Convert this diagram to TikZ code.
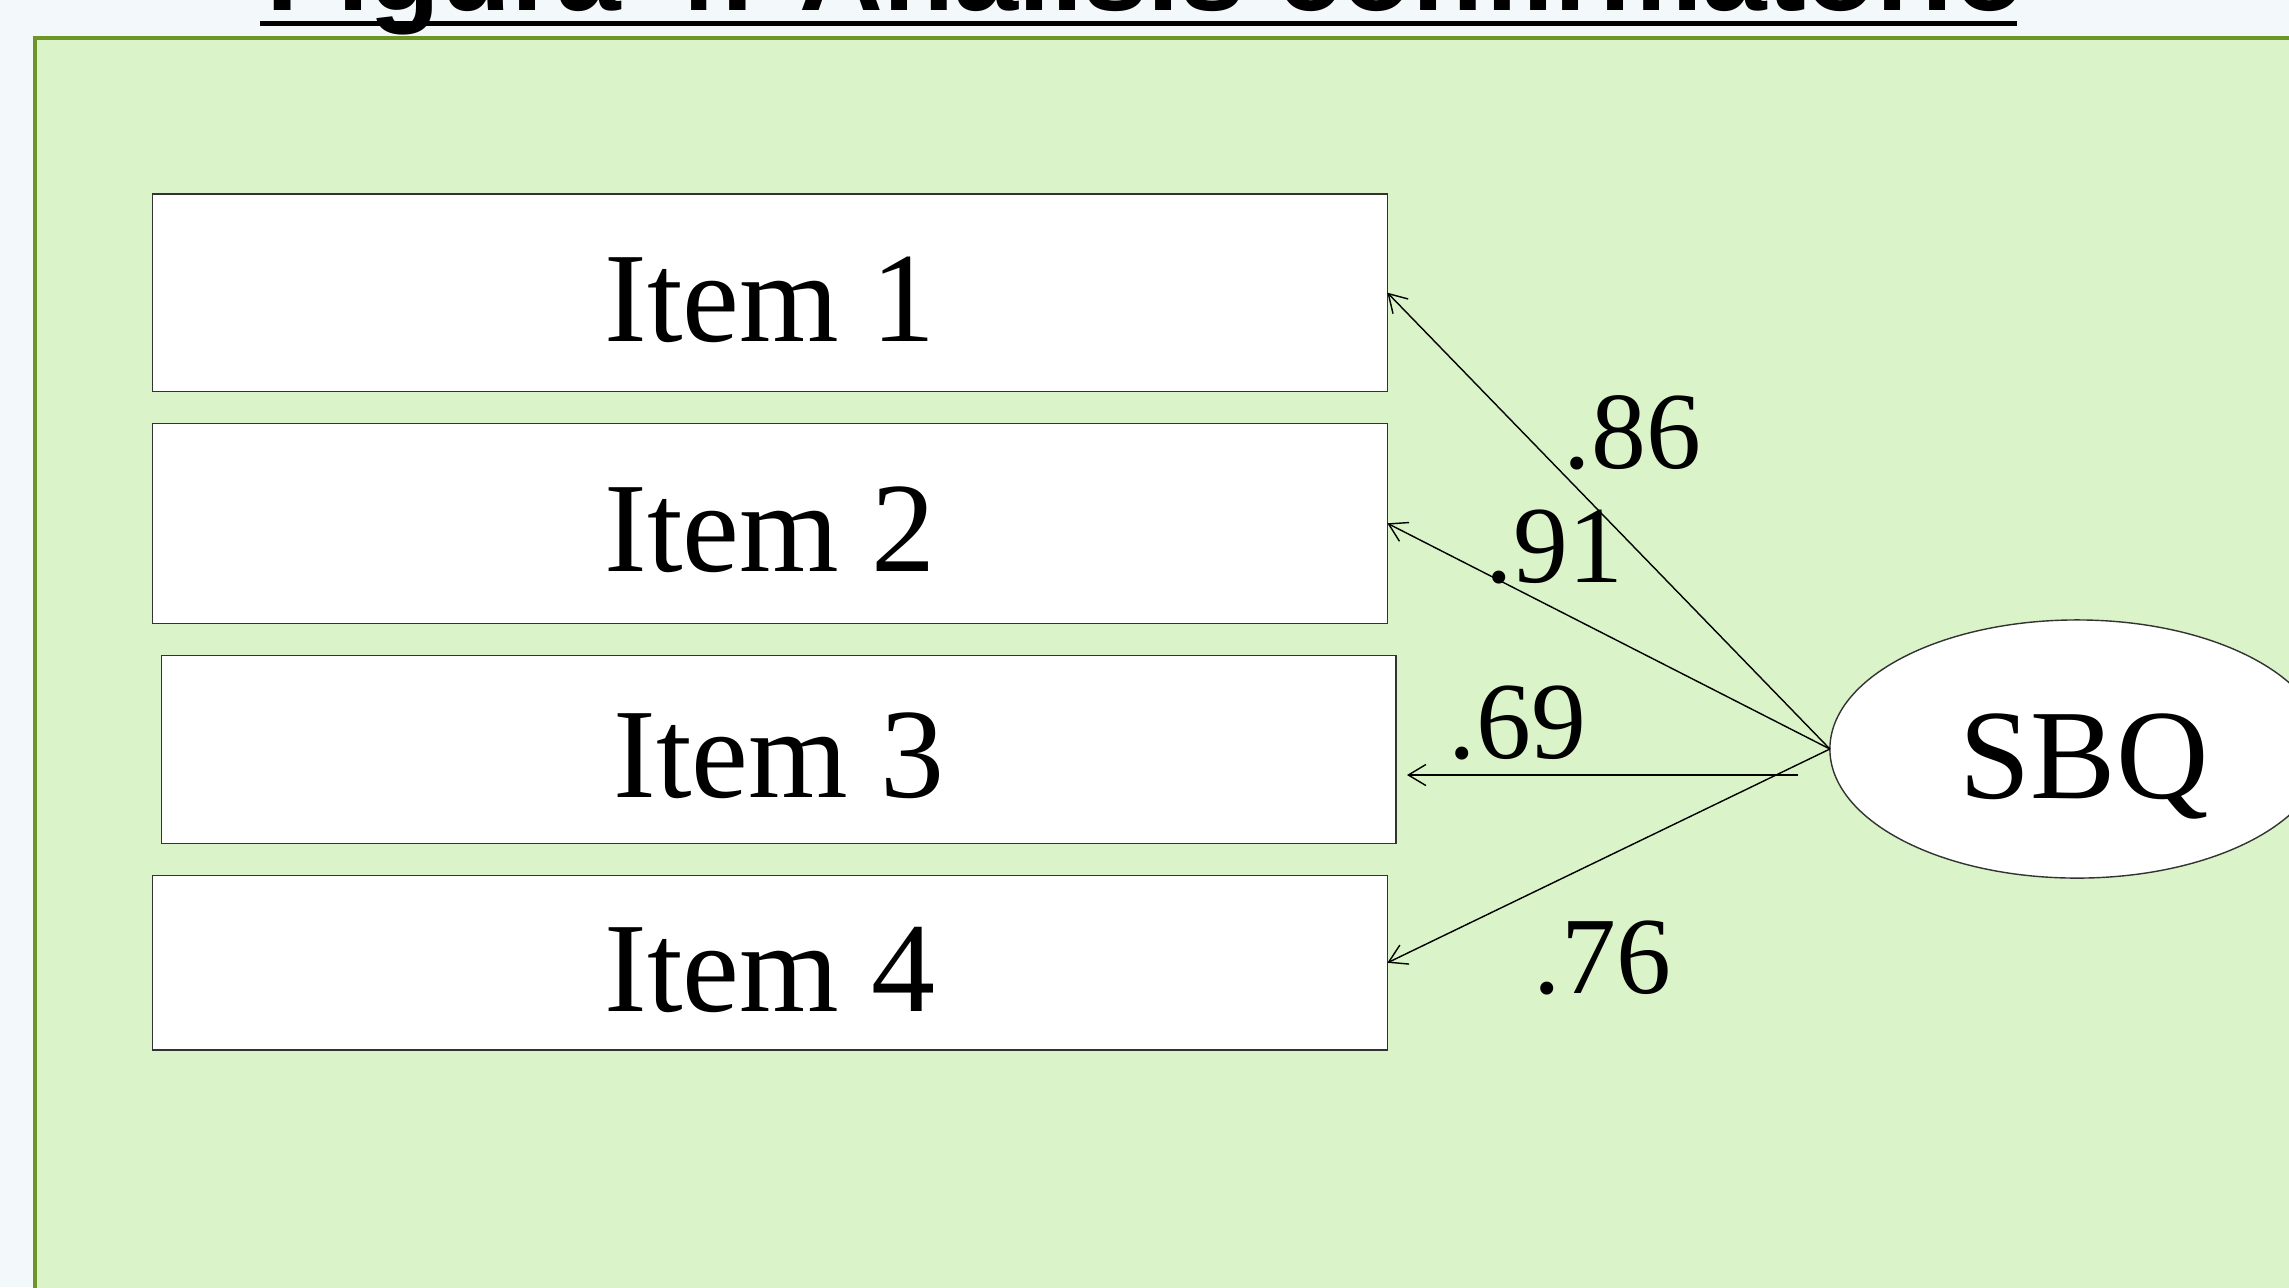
\documentclass[tikz,border=0pt]{standalone}
\usepackage{fontspec}
\setmainfont{Liberation Serif}
\newfontfamily\titlefont{Liberation Sans}
\usetikzlibrary{arrows.meta,shapes.geometric}
\definecolor{pagebg}{HTML}{F3F8FB}
\definecolor{panelfill}{HTML}{DAF3C8}
\definecolor{paneledge}{HTML}{6E9626}
\begin{document}
\begin{tikzpicture}[x=0.01cm,y=-0.01cm,
  itembox/.style={draw=black!80, fill=white, line width=0.4pt, inner sep=0pt, outer sep=0pt,
    font=\fontsize{36.4}{40}\selectfont, text height=27.5pt, text depth=0pt},
  latent/.style={ellipse, draw=black!80, fill=white, line width=0.4pt, inner sep=0pt, outer sep=0pt,
    minimum width=4.94cm, minimum height=2.58cm, font=\fontsize{36.4}{40}\selectfont,
    text height=27.9pt, text depth=0pt},
  coef/.style={anchor=base west, inner sep=0pt, font=\fontsize{31.2}{35}\selectfont},
  arr/.style={-{Straight Barb[length=5pt,width=6pt]}, line width=0.4pt, black}]
\fill[pagebg] (0,0) rectangle (2289,1287);
\useasboundingbox (0,0) rectangle (2289,1287);
% title (cut off at the top edge, as in the reference)
\node[anchor=base west, inner sep=0pt, font=\titlefont\bfseries\fontsize{33}{36}\selectfont] (title) at (266,10) {Figura 4: Análisis confirmatorio};
\fill[black] (260,21) rectangle (2017,26);
% panel
\draw[paneledge, fill=panelfill, line width=0.9pt] (35,38) rectangle (2400,1400);
% items
\node[itembox, minimum width=12.34cm, minimum height=1.97cm] (i1) at (770,292.7) {Item 1};
\node[itembox, minimum width=12.34cm, minimum height=2.00cm] (i2) at (770,523.3) {Item 2};
\node[itembox, minimum width=12.34cm, minimum height=1.88cm] (i3) at (778.8,749.6) {Item 3};
\node[itembox, minimum width=12.34cm, minimum height=1.74cm] (i4) at (770,962.8) {Item 4};
% latent
\node[latent] (sbq) at (2077,749) {\hspace*{0.14cm}SBQ};
% arrows
\draw[arr] (sbq.west) -- (i1.east);
\draw[arr] (sbq.west) -- (i2.east);
\coordinate (h3s) at (1798,775);
\coordinate (h3e) at (1407,775);
\draw[arr] (h3s) -- (h3e);
\draw[arr] (sbq.west) -- (i4.east);
% coefficients
\node[coef] (l86) at (1563,468) {.86};
\node[coef] (l91) at (1485,582) {.91};
\node[coef] (l69) at (1448,758) {.69};
\node[coef] (l76) at (1533,993) {.76};
\end{tikzpicture}
\end{document}
